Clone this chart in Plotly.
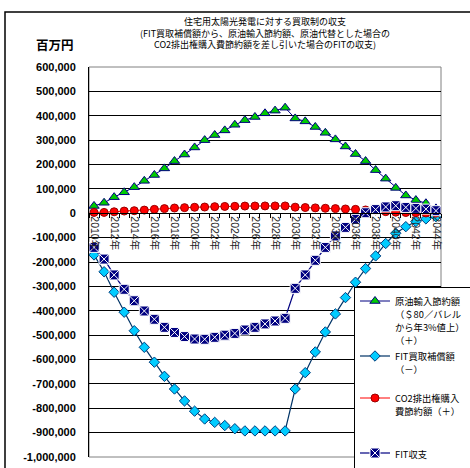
import plotly.graph_objects as go

# ---- data -------------------------------------------------------------
years = [f"{y}年" for y in range(2010, 2045)]

# 原油輸入節約額（＄80／バレルから年3%値上）（＋）  [百万円]
oil_savings = [30000, 43000, 66000, 86000, 107000, 133000, 157000, 184000, 214000, 241000,
               270000, 300000, 321000, 340000, 363000, 382000, 395000, 410000, 421000, 433000,
               389000, 377000, 354000, 330000, 303000, 274000, 243000, 214000, 177000, 142000,
               104000, 73000, 54000, 41000, 20000]

# FIT買取補償額（－）
fit_compensation = [-171000, -240000, -324000, -406000, -482000, -550000, -611000, -669000, -721000, -770000,
                    -812000, -844000, -858000, -871000, -884000, -893000, -893000, -893000, -893000, -893000,
                    -721000, -654000, -569000, -487000, -413000, -346000, -283000, -227000, -175000, -124000,
                    -82000, -55000, -34000, -23000, -14000]

# CO2排出権購入費節約額（＋）
co2_savings = [3500, 3500, 6000, 9000, 10500, 13000, 16000, 19000, 21500, 23000,
               24500, 25500, 27000, 28000, 28500, 29500, 29700, 30000, 30000, 30000,
               25000, 23500, 22000, 20500, 19000, 17500, 16000, 13500, 10000, 6500,
               4500, 3000, 2000, 1000, 500]

# FIT収支
fit_balance = [-140000, -188000, -253000, -312000, -359000, -401000, -435000, -468000, -489000, -506000,
               -516000, -517000, -509000, -500000, -493000, -479000, -468000, -454000, -442000, -431000,
               -308000, -253000, -193000, -140000, -93000, -58000, -25000, 2000, 15000, 26000,
               31000, 24000, 20000, 17000, 10500]

y_tickvals = list(range(-1000000, 600001, 100000))
y_ticktext = ["-1,000,000", "-900,000", "-800,000", "-700,000", "-600,000", "-500,000",
              "-400,000", "-300,000", "-200,000", "-100,000", "0", "100,000", "200,000",
              "300,000", "400,000", "500,000", "600,000"]
x_ticktext = [y if i % 2 == 0 else "" for i, y in enumerate(years)]

legend_lines = [
    ["原油輸入節約額", "（＄80／バレル", "から年3%値上）", "（＋）"],
    ["FIT買取補償額", "（－）", " "],
    ["CO2排出権購入", "費節約額（＋）", " ", " "],
    ["FIT収支"],
]


def legend_label(lines, size=9.3):
    # glyphs slightly smaller than the legend's base font keep the line pitch loose
    return "<br>".join(f"<span style='font-size:{size}px'>{t}</span>" for t in lines)


# ---- figure -----------------------------------------------------------
Y_MIN, Y_MAX = -1000000, 600000
CJK = "Noto Sans CJK JP"

fig = go.Figure()

fig.add_trace(go.Scatter(
    x=years, y=oil_savings, name=legend_label(legend_lines[0]), mode="lines+markers",
    line=dict(color="#000080", width=1),
    marker=dict(symbol="triangle-up", size=9, color="#00CC00",
                line=dict(color="#000080", width=1)),
))
fig.add_trace(go.Scatter(
    x=years, y=fit_compensation, name=legend_label(legend_lines[1]), mode="lines+markers",
    line=dict(color="#003366", width=1.2),
    marker=dict(symbol="diamond", size=8, color="#00CCFF",
                line=dict(color="#004080", width=1)),
))
fig.add_trace(go.Scatter(
    x=years, y=co2_savings, name=legend_label(legend_lines[2]), mode="lines+markers",
    line=dict(color="#FF0000", width=1),
    marker=dict(symbol="circle", size=8, color="#FF0000",
                line=dict(color="#990000", width=1)),
))
fig.add_trace(go.Scatter(
    x=years, y=fit_balance, name=legend_label(legend_lines[3]), mode="lines+markers",
    line=dict(color="#000080", width=1.2),
    marker=dict(symbol="square-x", size=10, color="#000080",
                line=dict(color="white", width=1)),
))

zero_pos = (0 - Y_MIN) / (Y_MAX - Y_MIN)

fig.update_layout(
    width=470, height=468,
    margin=dict(l=89, r=29, t=67, b=11, autoexpand=False),
    paper_bgcolor="white", plot_bgcolor="white",
    font=dict(family=CJK, color="black"),
    showlegend=True,
    legend=dict(
        x=(471 - 89) / 352, y=(457 - 287) / 390, xanchor="right", yanchor="top",
        bgcolor="white", bordercolor="black", borderwidth=1,
        font=dict(family=CJK, size=10, color="black"),
        itemwidth=30, valign="top", traceorder="normal",
    ),
    xaxis=dict(
        type="category", range=[-0.5, len(years) - 0.5],
        anchor="free", position=zero_pos,
        showline=True, linecolor="black", linewidth=1,
        showgrid=False, zeroline=False,
        tickmode="array", tickvals=years, ticktext=x_ticktext,
        tickson="boundaries", ticks="outside", ticklen=4, tickcolor="black",
        tickangle=90,
        tickfont=dict(family="Liberation Sans, " + CJK, size=10.5, color="#222222"),
    ),
    yaxis=dict(
        range=[Y_MIN, Y_MAX],
        tickmode="array", tickvals=y_tickvals, ticktext=y_ticktext,
        showline=True, linecolor="black", linewidth=1,
        showgrid=True, gridcolor="#000000", gridwidth=1,
        zeroline=False, ticks="", ticklabelstandoff=10,
        tickfont=dict(family="Liberation Sans", size=11, color="black", weight="bold"),
    ),
    shapes=[
        # plot-area border
        dict(type="rect", xref="paper", yref="paper", x0=0, y0=0, x1=1, y1=1,
             line=dict(color="#808080", width=1), layer="below"),
        # chart frame
        dict(type="rect", xref="paper", yref="paper",
             x0=(5 - 89) / 352, y0=-0.3, x1=1.3, y1=(457 - 12) / 390,
             line=dict(color="black", width=1.5), layer="above"),
    ],
    annotations=[
        dict(xref="paper", yref="paper", x=0.5, y=(457 - 13) / 390,
             xanchor="center", yanchor="top", showarrow=False, align="center",
             text="住宅用太陽光発電に対する買取制の収支<br>"
                  "(FIT買取補償額から、原油輸入節約額、原油代替とした場合の<br>"
                  "CO2排出権購入費節約額を差し引いた場合のFITの収支)",
             font=dict(family=CJK, size=9, color="black")),
        dict(xref="paper", yref="paper", x=(55 - 89) / 352, y=(457 - 44) / 390,
             xanchor="center", yanchor="middle", showarrow=False,
             text="<b>百万円</b>", font=dict(family=CJK, size=12.5, color="black")),
    ],
)

fig.write_html("out.html")
